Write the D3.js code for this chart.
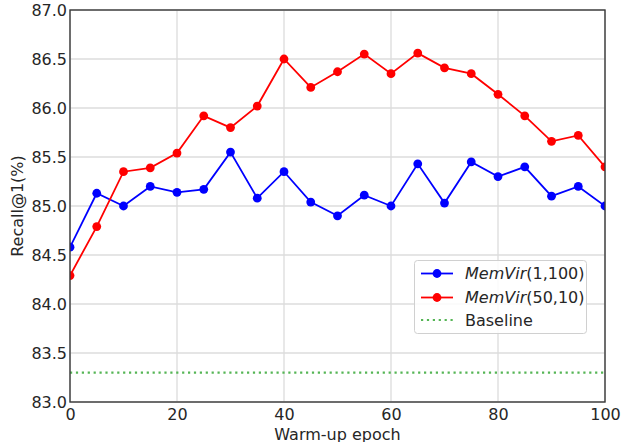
<!DOCTYPE html>
<html><head><meta charset="utf-8">
<script src="https://cdn.jsdelivr.net/npm/d3@7"></script>
<style>body{margin:0;background:#fff}svg{display:block;font-family:"DejaVu Sans",sans-serif}</style>
</head><body><svg id="c" width="621" height="442"></svg>
<script>
const epochs = [0,5,10,15,20,25,30,35,40,45,50,55,60,65,70,75,80,85,90,95,100];
const memvir1_100 = [84.58,85.13,85.00,85.20,85.14,85.17,85.55,85.08,85.35,85.04,84.90,85.11,85.00,85.43,85.03,85.45,85.30,85.40,85.10,85.20,85.00];
const memvir50_10 = [84.29,84.79,85.35,85.39,85.54,85.92,85.80,86.02,86.50,86.21,86.37,86.55,86.35,86.56,86.41,86.35,86.14,85.92,85.66,85.72,85.40];
const baseline = 83.30;
const xTicks = [0,20,40,60,80,100];
const yTicks = [83.0,83.5,84.0,84.5,85.0,85.5,86.0,86.5,87.0];
const seriesNames = ["(1,100)","(50,10)"];

const svg = d3.select("#c");
const L=70,R=605,T=10,B=402;
const x = d3.scaleLinear().domain([0,100]).range([L,R]);
const y = d3.scaleLinear().domain([83,87]).range([B,T]);
const textCol = "#262626";

svg.append("defs").append("clipPath").attr("id","clip")
  .append("rect").attr("x",L).attr("y",T).attr("width",R-L).attr("height",B-T);

// grid
svg.append("g").selectAll("line").data(xTicks).join("line")
  .attr("x1",d=>x(d)).attr("x2",d=>x(d)).attr("y1",T).attr("y2",B)
  .attr("stroke","#dcdcdc").attr("stroke-width",1.3);
svg.append("g").selectAll("line").data(yTicks).join("line")
  .attr("y1",d=>y(d)).attr("y2",d=>y(d)).attr("x1",L).attr("x2",R)
  .attr("stroke","#dcdcdc").attr("stroke-width",1.3);

// axes (labels only)
const xAxis = svg.append("g").attr("transform",`translate(0,${B})`)
  .call(d3.axisBottom(x).tickValues(xTicks).tickFormat(d3.format("d")).tickSize(0).tickPadding(7));
const yAxis = svg.append("g").attr("transform",`translate(${L},0)`)
  .call(d3.axisLeft(y).tickValues(yTicks).tickFormat(d3.format(".1f")).tickSize(0).tickPadding(3));
[xAxis,yAxis].forEach(a=>{
  a.select(".domain").remove();
  a.selectAll("text").attr("font-size",16).attr("fill",textCol).attr("font-family","DejaVu Sans");
});

const plot = svg.append("g").attr("clip-path","url(#clip)");
// baseline
plot.append("line").attr("x1",L).attr("x2",R).attr("y1",y(baseline)).attr("y2",y(baseline))
  .attr("stroke","#55b555").attr("stroke-width",2.2).attr("stroke-dasharray","2.2,3.7");

const line = d3.line().x((d,i)=>x(epochs[i])).y(d=>y(d));
[[memvir1_100,"#0000ff"],[memvir50_10,"#ff0000"]].forEach(([vals,col])=>{
  plot.append("path").datum(vals).attr("d",line).attr("fill","none").attr("stroke",col).attr("stroke-width",1.8);
  plot.append("g").selectAll("circle").data(vals).join("circle")
    .attr("cx",(d,i)=>x(epochs[i])).attr("cy",d=>y(d)).attr("r",4.4).attr("fill",col);
});

// frame
svg.append("rect").attr("x",L).attr("y",T).attr("width",R-L).attr("height",B-T)
  .attr("fill","none").attr("stroke","#3a3a3a").attr("stroke-width",1.4);

// axis titles
svg.append("text").attr("x",(L+R)/2).attr("y",440).attr("text-anchor","middle")
  .attr("font-size",16).attr("fill",textCol).text("Warm-up epoch");
svg.append("text").attr("transform",`translate(23,${(T+B)/2}) rotate(-90)`).attr("text-anchor","middle")
  .attr("font-size",16).attr("fill",textCol).text("Recall@1(%)");

// legend
const lg = svg.append("g");
lg.append("rect").attr("x",414.5).attr("y",260.5).attr("width",172).attr("height",73).attr("rx",3)
  .attr("fill","#fff").attr("fill-opacity",0.85).attr("stroke","#d0d0d0").attr("stroke-width",1);
const rows=[{c:"#0000ff",n:seriesNames[0],y:273.5},{c:"#ff0000",n:seriesNames[1],y:297.5}];
rows.forEach(r=>{
  lg.append("line").attr("x1",421).attr("x2",453).attr("y1",r.y).attr("y2",r.y).attr("stroke",r.c).attr("stroke-width",1.8);
  lg.append("circle").attr("cx",437).attr("cy",r.y).attr("r",4.4).attr("fill",r.c);
  const t = lg.append("text").attr("x",465).attr("y",r.y+5.5).attr("font-size",16).attr("fill",textCol);
  t.append("tspan").attr("font-style","italic").text("MemVir");
  t.append("tspan").text(r.n);
});
lg.append("line").attr("x1",421).attr("x2",453).attr("y1",320).attr("y2",320)
  .attr("stroke","#55b555").attr("stroke-width",2.2).attr("stroke-dasharray","2.2,3.7");
lg.append("text").attr("x",465).attr("y",325.5).attr("font-size",16).attr("fill",textCol).text("Baseline");
</script></body></html>
